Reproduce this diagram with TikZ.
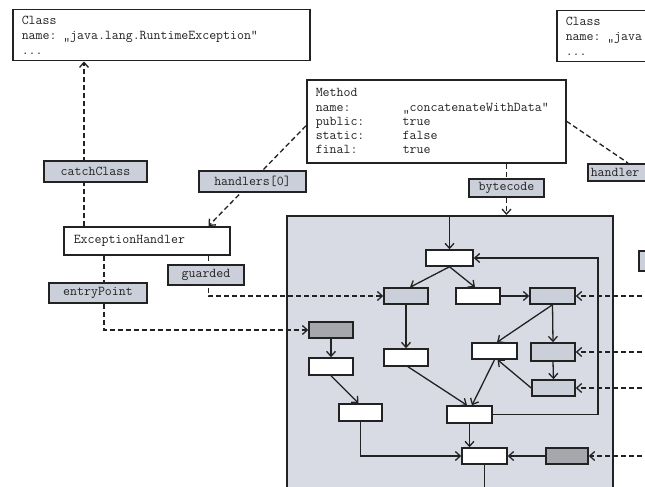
\documentclass[tikz,border=0pt]{standalone}
\usepackage{fontspec}
\usetikzlibrary{arrows.meta,calc}
\definecolor{panelc}{HTML}{D8DBE3}
\definecolor{lblc}{HTML}{CBCFD9}
\definecolor{darkc}{HTML}{A6A7AD}
\definecolor{inkc}{HTML}{222222}
\pgfdeclarelayer{bg}
\pgfdeclarelayer{edges}
\pgfsetlayers{bg,edges,main}
\begin{document}
\begin{tikzpicture}[x=1pt,y=-1pt,
  every node/.style={font=\ttfamily\fontsize{13.5}{14.4}\selectfont, text=inkc},
  box/.style={draw=inkc, line width=1.5pt, fill=white, inner ysep=0pt},
  lbl/.style={draw=inkc, line width=1.5pt, fill=lblc, inner sep=0pt},
  blk/.style={draw=inkc, line width=1.5pt, inner sep=0pt, minimum width=44pt, minimum height=16pt},
  wb/.style={blk, fill=white},
  gb/.style={blk, fill=lblc},
  db/.style={blk, fill=darkc},
  flow/.style={draw=inkc, line width=1.3pt, -{Straight Barb[length=5pt,width=9pt]}},
  ref/.style={draw=inkc, line width=1.3pt, dash pattern=on 5pt off 3pt},
  refa/.style={ref, -{Straight Barb[length=5pt,width=9pt]}}
]
\useasboundingbox (0,0) rectangle (645,487);
\clip (0,0) rectangle (645,487);

% background and panel
\begin{pgfonlayer}{bg}
\fill[white] (0,0) rectangle (645,487);
\node[draw=inkc, line width=1.5pt, fill=panelc, inner sep=0pt, minimum width=326pt, minimum height=300pt, anchor=north west] (panel) at (286,215) {};
\end{pgfonlayer}

% object boxes
\node[box, anchor=north west, minimum height=51pt, text width=279pt, inner xsep=9pt, align=left,
      font=\ttfamily\fontsize{13.5}{15}\selectfont] (cls) at (12,9)
  {Class\\name: „java.lang.RuntimeException“\\...};
\node[box, anchor=north west, minimum height=51pt, text width=120pt, inner xsep=9pt, align=left,
      font=\ttfamily\fontsize{13.5}{15}\selectfont] (cls2) at (556,10)
  {Class\\name: „java\\...};
\node[box, anchor=north west, minimum height=83pt, text width=241pt, inner xsep=9pt, align=left,
      font=\ttfamily\fontsize{13.5}{14.3}\selectfont] (method) at (306,79)
  {Method\\\makebox[87pt][l]{name:}„concatenateWithData“\\\makebox[87pt][l]{public:}true\\\makebox[87pt][l]{static:}false\\\makebox[87pt][l]{final:}true};
\node[box, anchor=north west, minimum height=28pt, text width=146pt, inner xsep=10pt, align=left] (eh) at (63,226) {ExceptionHandler};

% labels
\node[lbl, minimum width=103pt, minimum height=21pt] (catch) at (95.5,171.5) {catchClass};
\node[lbl, minimum width=107pt, minimum height=21pt] (h0) at (252.5,181.5) {handlers[0]};
\node[lbl, minimum width=75pt, minimum height=18pt] (bc) at (506.5,188) {bytecode};
\node[lbl, minimum width=76pt, minimum height=20pt] (guard) at (206,275) {guarded};
\node[lbl, minimum width=98pt, minimum height=20pt] (entry) at (98,293) {entryPoint};
\node[lbl, anchor=north west, minimum height=17pt, text width=77pt, inner xsep=3pt, align=left] (hright) at (587,163) {handler};
\node[lbl, anchor=north west, minimum width=40pt, minimum height=20pt] (cut) at (638,250) {};

% blocks
\node[wb, minimum width=47pt] (A) at (449.5,258) {};
\node[gb] (B) at (406,296) {};
\node[wb] (C) at (478,296) {};
\node[gb, minimum width=45pt] (D) at (552.5,296) {};
\node[db] (E) at (331,330) {};
\node[wb, minimum height=17pt] (F) at (331,366.5) {};
\node[wb, minimum height=17pt] (G) at (406,357.5) {};
\node[wb, minimum width=45pt] (H) at (494.5,351) {};
\node[gb, minimum height=18pt] (I) at (553,352) {};
\node[gb, minimum width=43pt] (K) at (553.5,388) {};
\node[wb, minimum width=43pt, minimum height=17pt] (L) at (360.5,412.5) {};
\node[wb, minimum width=45pt, minimum height=17pt] (J) at (469.5,414.5) {};
\node[wb, minimum width=45pt] (M) at (484.5,456) {};
\node[db, minimum width=42pt] (N) at (567,456) {};

\coordinate (ehN1) at ([xshift=21pt]eh.north west);
\coordinate (ehS1) at ([xshift=41pt]eh.south west);
\coordinate (ehS2) at ([xshift=-22pt]eh.south east);
\coordinate (ehN2) at ([xshift=-22pt]eh.north east);
\coordinate (mW) at ([yshift=-4.5pt]method.west);
\coordinate (hrT) at ([xshift=41pt]hright.north west);
\coordinate (rx) at (650,0);
\coordinate (bk) at (598,0);
\coordinate (mb) at (0,495);

\begin{pgfonlayer}{edges}
% references
\draw[refa] (ehN1) -- (ehN1 |- cls.south);
\draw[refa] (ehS1) |- (E.west);
\draw[refa] (ehS2) |- (B.west);
\draw[refa] (mW) -- (ehN2);
\draw[ref] (method.east) -- (hrT);
\draw[ref] (bc.north |- method.south) -- (bc.north);
\draw[refa] (bc.south) -- (bc.south |- panel.north);
\draw[refa] (rx |- D.east) -- (D.east);
\draw[refa] (rx |- I.east) -- (I.east);
\draw[refa] (rx |- K.east) -- (K.east);
\draw[refa] (rx |- N.east) -- (N.east);
% control flow
\draw[flow] (A.north |- panel.north) -- (A.north);
\draw[flow] (A.south) -- ([xshift=4pt]B.north);
\draw[flow] (A.south) -- ([xshift=-3pt]C.north);
\draw[flow] (C.east) -- (D.west);
\draw[flow] (D.south) -- (I.north);
\draw[flow] (D.south) -- ([xshift=2.5pt]H.north);
\draw[flow] (I.south) -- (K.north);
\draw[flow] (K.west) -- ([xshift=3pt]H.south);
\draw[flow] (B.south) -- (G.north);
\draw[flow] (E.south) -- (F.north);
\draw[flow] (F.south) -- ([xshift=-2pt]L.north);
\draw[flow] ([xshift=2pt]G.south) -- ([xshift=-2.5pt]J.north);
\draw[flow] (H.south) -- ([xshift=2.5pt]J.north);
\draw[flow] (J.south) -- (J.south |- M.north);
\draw[flow] (L.south) |- (M.west);
\draw[flow] (N.west) -- (M.east);
\draw[flow] (J.east) -| (bk |- A.east) -- (A.east);
\draw[flow] (M.south) -- (M.south |- mb);
\end{pgfonlayer}
\end{tikzpicture}
\end{document}
